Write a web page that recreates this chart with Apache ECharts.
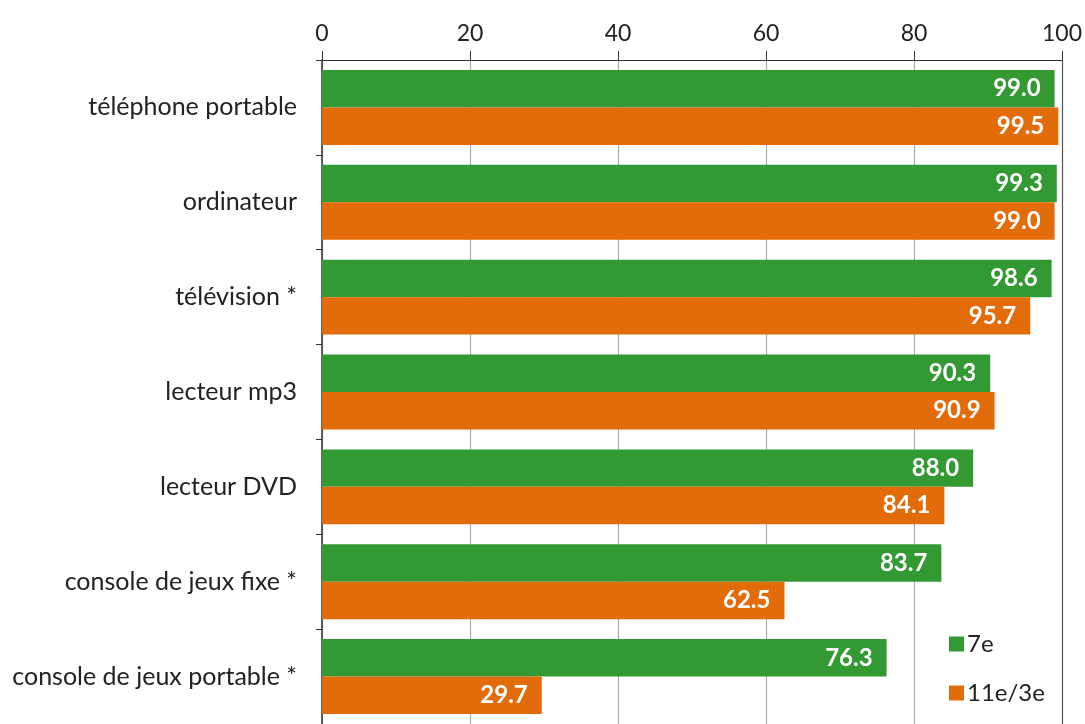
<!DOCTYPE html>
<html>
<head>
<meta charset="utf-8">
<script src="https://cdn.jsdelivr.net/npm/echarts@6/dist/echarts.min.js"></script>
<style>
  html, body { margin: 0; padding: 0; background: #fff; }
  #chart { width: 1085px; height: 724px; }
</style>
</head>
<body>
<div id="chart"></div>
<script>
const categories = [
  'téléphone portable',
  'ordinateur',
  'télévision *',
  'lecteur mp3',
  'lecteur DVD',
  'console de jeux fixe *',
  'console de jeux portable *',
];
const grade7 = [99.0, 99.3, 98.6, 90.3, 88.0, 83.7, 76.3];
const grade11 = [99.5, 99.0, 95.7, 90.9, 84.1, 62.5, 29.7];

const font = 'Lato, "Noto Sans", sans-serif';

const chart = echarts.init(document.getElementById('chart'));

const barLabel = {
  show: true,
  position: 'insideRight',
  distance: 14,
  color: '#fff',
  fontWeight: 'bold',
  fontSize: 24,
  fontFamily: font,
  formatter: (p) => p.value.toFixed(1),
};

chart.setOption({
  animation: false,
  grid: { left: 322, right: 23, top: 60, height: 665 },
  legend: {
    orient: 'vertical',
    left: 944,
    top: 627,
    itemWidth: 15,
    itemHeight: 15,
    itemGap: 25,
    icon: 'rect',
    textStyle: { fontSize: 24, fontFamily: font, color: '#222', padding: [0, 0, 0, -2] },
    data: ['7e', '11e/3e'],
  },
  xAxis: {
    type: 'value',
    position: 'top',
    min: 0,
    max: 100,
    interval: 20,
    axisLine: { show: true, lineStyle: { color: '#333', width: 1.2 } },
    axisTick: { show: true, length: 9, lineStyle: { color: '#333' } },
    axisLabel: { fontSize: 23, fontFamily: font, color: '#222', margin: 15 },
    splitLine: {
      show: true,
      lineStyle: { color: ['#aaa', '#aaa', '#aaa', '#aaa', '#aaa', '#555'], width: 1.2 },
    },
  },
  yAxis: {
    type: 'category',
    inverse: true,
    data: categories,
    axisLine: { show: true, lineStyle: { color: '#333', width: 1.5 } },
    axisTick: { show: true, length: 6, lineStyle: { color: '#333' } },
    axisLabel: { fontSize: 25, fontFamily: font, color: '#222', margin: 25 },
  },
  series: [
    {
      name: '7e',
      type: 'bar',
      data: grade7,
      barGap: '0%',
      barCategoryGap: '21%',
      itemStyle: { color: '#339933' },
      label: barLabel,
    },
    {
      name: '11e/3e',
      type: 'bar',
      data: grade11,
      itemStyle: { color: '#E36C0A' },
      label: barLabel,
    },
  ],
});
</script>
</body>
</html>
